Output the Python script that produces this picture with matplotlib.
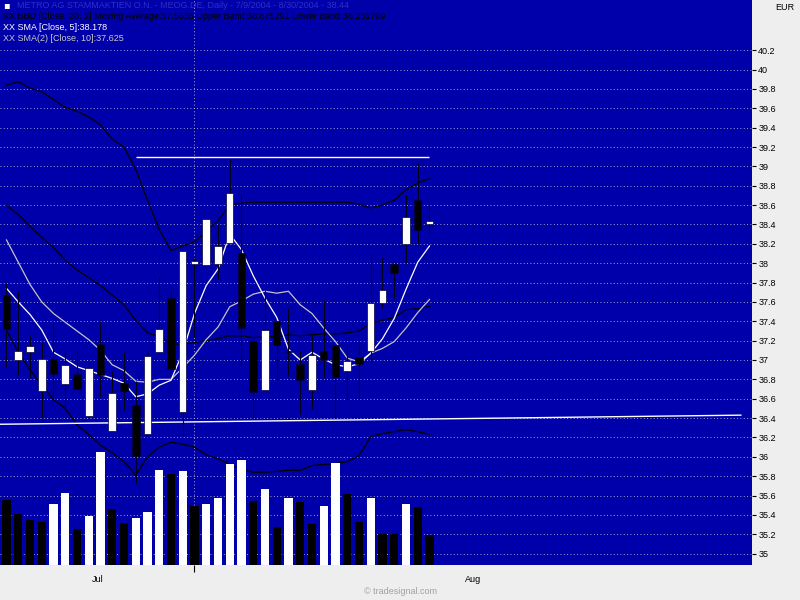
import numpy as np
import pandas as pd
import matplotlib
matplotlib.use("Agg")
import matplotlib.pyplot as plt

# METRO AG daily, 7/9/2004 - 8/30/2004 (37 trading days)
dates = pd.bdate_range("2004-07-09", "2004-08-30")

opens = [37.67, 37.00, 37.08, 36.68, 37.01, 36.75, 36.86, 36.42, 37.17, 36.27,
         36.76, 36.54, 36.24, 37.08, 37.64, 36.46, 37.99, 37.98, 37.99, 38.21,
         38.11, 37.20, 36.69, 37.40, 37.09, 36.96, 36.69, 37.09, 37.15, 36.89,
         37.03, 37.09, 37.59, 37.99, 38.20, 38.65, 38.40]
highs = [37.80, 37.71, 37.25, 37.19, 37.40, 37.08, 37.09, 36.98, 37.40, 36.89,
         37.08, 36.78, 37.08, 37.86, 37.75, 38.13, 38.05, 38.46, 38.40, 39.08,
         38.71, 37.26, 37.72, 37.40, 37.54, 37.09, 37.27, 37.62, 37.15, 37.17,
         37.19, 38.10, 38.06, 37.99, 38.70, 39.03, 38.60]
lows = [36.93, 36.85, 36.81, 36.40, 36.62, 36.48, 36.69, 36.42, 36.62, 36.27,
        36.47, 35.73, 36.20, 37.08, 36.91, 36.21, 37.24, 37.98, 37.84, 38.21,
        36.95, 36.40, 36.69, 36.79, 36.83, 36.44, 36.49, 36.81, 36.40, 36.59,
        36.62, 36.98, 37.54, 37.64, 37.99, 38.20, 38.31]
closes = [37.32, 37.09, 37.14, 37.01, 36.86, 36.95, 36.70, 36.92, 36.84, 36.66,
          36.68, 36.01, 37.04, 37.32, 36.91, 38.13, 38.02, 38.46, 38.18, 38.73,
          37.33, 36.67, 37.31, 37.15, 37.08, 36.79, 37.05, 37.00, 36.82, 36.99,
          36.96, 37.59, 37.72, 37.90, 38.48, 38.34, 38.44]
volumes = [650, 510, 450, 430, 610, 720, 360, 490, 1130, 560,
           420, 470, 530, 950, 910, 940, 590, 610, 670, 1010,
           1050, 640, 760, 380, 670, 630, 410, 590, 1020, 710,
           430, 670, 310, 308, 610, 580, 300]  # thousand shares

# indicator values
sma5 = [37.74, 37.60, 37.47, 37.31, 37.08, 37.01, 36.93, 36.89, 36.85, 36.81,
        36.76, 36.62, 36.65, 36.74, 36.79, 37.08, 37.48, 37.77, 37.94, 38.30,
        38.14, 37.87, 37.64, 37.44, 37.11, 37.00, 37.08, 37.01, 36.95, 36.93,
        36.96, 37.07, 37.22, 37.43, 37.73, 38.01, 38.178]
sma10 = [38.24, 38.01, 37.78, 37.60, 37.48, 37.39, 37.30, 37.21, 37.10, 36.95,
         36.89, 36.78, 36.77, 36.80, 36.80, 36.92, 37.05, 37.21, 37.34, 37.55,
         37.61, 37.68, 37.71, 37.69, 37.71, 37.57, 37.48, 37.33, 37.19, 37.02,
         36.98, 37.07, 37.12, 37.19, 37.33, 37.49, 37.625]
bb_mid = [38.60, 38.50, 38.38, 38.27, 38.16, 38.03, 37.93, 37.85, 37.77, 37.67,
          37.57, 37.41, 37.28, 37.24, 37.17, 37.16, 37.18, 37.20, 37.22, 37.25,
          37.25, 37.23, 37.24, 37.24, 37.26, 37.25, 37.26, 37.27, 37.27, 37.28,
          37.30, 37.38, 37.41, 37.44, 37.52, 37.53, 37.5535]
bb_upper = [39.84, 39.875, 39.81, 39.77, 39.69, 39.61, 39.57, 39.51, 39.43, 39.28,
            39.20, 38.97, 38.65, 38.35, 38.13, 38.18, 38.22, 38.33, 38.44, 38.60,
            38.62, 38.63, 38.63, 38.63, 38.63, 38.63, 38.63, 38.63, 38.63, 38.63,
            38.61, 38.57, 38.60, 38.65, 38.76, 38.83, 38.875]
bb_lower = [37.31, 37.08, 36.90, 36.74, 36.59, 36.50, 36.33, 36.23, 36.12, 36.04,
            35.95, 35.81, 36.00, 36.10, 36.15, 36.13, 36.10, 36.02, 35.98, 35.92,
            35.87, 35.84, 35.84, 35.85, 35.86, 35.86, 35.91, 35.92, 35.93, 35.95,
            36.01, 36.21, 36.24, 36.26, 36.28, 36.26, 36.232]

# drawn objects: rising trend line and a horizontal line
trend_x = [-0.55, 62.5]
trend_y = [36.336, 36.43]
hline_x = [11, 36]
hline_y = 39.095

price_ticks = np.arange(35.0, 40.21, 0.2)

BG = "#0000aa"
PANEL = "#eeeeee"
GRID = "#d8d8d8"

plt.rcParams["font.family"] = ["Liberation Sans", "DejaVu Sans"]
FS = 6.5

fig = plt.figure(figsize=(8, 6), dpi=100, facecolor=PANEL)
ax = fig.add_axes([0, 35 / 600, 752 / 800, 565 / 600])
ax.set_facecolor(BG)
for s in ax.spines.values():
    s.set_visible(False)

x = np.arange(len(closes))
xlim = (-0.553, 63.45)
ax.set_xlim(*xlim)
ax.set_ylim(34.882, 40.719)

# volume overlay (white when volume rose vs. previous day)
vax = ax.twinx()
vax.axis("off")
v = np.array(volumes)
v_up = np.r_[False, v[1:] > v[:-1]]
vax.bar(x, v, width=0.7, color=np.where(v_up, "white", "black"), linewidth=0)
vax.set_ylim(0, v.max() * 5)
vax.set_xlim(*xlim)

# grid + right price scale
ax.set_yticks(price_ticks)
ax.set_yticklabels([f"{t:g}" for t in np.round(price_ticks, 1)])
ax.yaxis.grid(True, color=GRID, linestyle=(0, (1, 3)), linewidth=0.6, zorder=0)
ax.set_axisbelow(True)
ax.yaxis.tick_right()
ax.yaxis.set_label_position("right")
ax.tick_params(axis="y", which="both", left=False, labelleft=False, right=True,
               labelright=True, length=3, width=0.8, pad=1.5, labelsize=FS,
               colors="black")

# month separator, ticks and centred month labels
month_start = [i for i in range(1, len(dates)) if dates[i].month != dates[i - 1].month]
for m in month_start:
    ax.axvline(m, color=GRID, linestyle=(0, (1, 3)), linewidth=0.6, zorder=0)
ax.set_xticks(month_start)
ax.set_xticklabels([])
ax.tick_params(axis="x", length=5, width=0.8, color="black")
edges = [xlim[0]] + month_start + [xlim[1]]
starts = [0] + month_start
for k, i in enumerate(starts):
    ax.text((edges[k] + edges[k + 1]) / 2, -0.026, dates[i].strftime("%b"),
            transform=ax.get_xaxis_transform(), ha="center", va="center",
            fontsize=FS, color="black")

# indicators
ax.plot(x, bb_upper, color="black", lw=0.9, zorder=2)
ax.plot(x, bb_mid, color="black", lw=0.9, zorder=2)
ax.plot(x, bb_lower, color="black", lw=0.9, zorder=2)
ax.plot(x, sma10, color="#c4c4c4", lw=0.9, zorder=2)
ax.plot(x, sma5, color="white", lw=0.9, zorder=2)
ax.plot(trend_x, trend_y, color="white", lw=1.0, zorder=2)
ax.hlines(hline_y, hline_x[0], hline_x[1], color="white", lw=1.0, zorder=2)

# candles
o = np.array(opens)
c = np.array(closes)
up = c >= o
ax.vlines(x, lows, highs, color="#000018", lw=0.8, zorder=3)
ax.bar(x, np.abs(c - o), bottom=np.minimum(o, c), width=0.64,
       color=np.where(up, "white", "black"), edgecolor="#00003c", linewidth=0.5, zorder=4)


# header texts
def fy(py):
    return 1 - py / 600


fig.text(3 / 800, fy(5), "\u25aa", color="white", fontsize=7, va="center",
         family=["DejaVu Sans"])
fig.text(17 / 800, fy(5), "METRO AG STAMMAKTIEN O.N. - MEOG.DE, Daily - 7/9/2004 - 8/30/2004 - 38.44",
         color="#2e2ec8", fontsize=FS, va="center")
fig.text(3 / 800, fy(16.5),
         "XX BBD [Close, 20, 2] Moving Average:37.5535 Upper Band:38.875291 Lower Band:36.231709",
         color="black", fontsize=FS, va="center")
fig.text(3 / 800, fy(27.5), "XX SMA [Close, 5]:38.178", color="white", fontsize=FS, va="center")
fig.text(3 / 800, fy(38.5), "XX SMA(2) [Close, 10]:37.625", color="#c8c8c8", fontsize=FS, va="center")

fig.text(794 / 800, fy(8), "EUR", color="black", fontsize=FS, ha="right", va="center")
fig.text(0.5, fy(592), "\u00a9 tradesignal.com", color="#a0a0a0", fontsize=FS,
         ha="center", va="center")

fig.savefig("out.png", dpi=100, facecolor=PANEL)
